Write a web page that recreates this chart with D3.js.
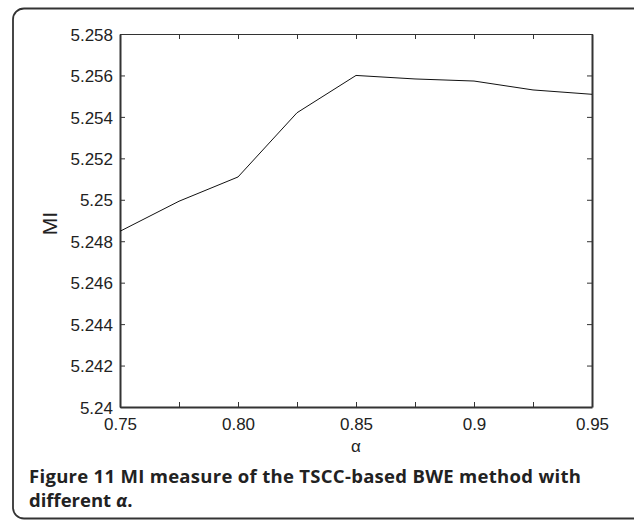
<!DOCTYPE html>
<html>
<head>
<meta charset="utf-8">
<script src="https://cdn.jsdelivr.net/npm/d3@7"></script>
<style>
  body { margin: 0; background: #fff; }
  .tick text { font-family: 'Liberation Sans', Arial, sans-serif; font-size: 17px; fill: #222; }
  .caption { font-family: 'Open Sans', 'Noto Sans', sans-serif; fill: #222; font-weight: 700; }
</style>
</head>
<body>
<div id="chart"></div>
<script>
// values
const alphas = [0.75, 0.775, 0.80, 0.825, 0.85, 0.875, 0.9, 0.925, 0.95];
const miValues = [5.24848, 5.24993, 5.25110, 5.25420, 5.25600, 5.25583, 5.25573, 5.25530, 5.25509];
const xTicks = [0.75, 0.775, 0.80, 0.825, 0.85, 0.875, 0.9, 0.925, 0.95];
const xTickLabels = ['0.75', '', '0.80', '', '0.85', '', '0.9', '', '0.95'];
const yTicks = [5.24, 5.242, 5.244, 5.246, 5.248, 5.25, 5.252, 5.254, 5.256, 5.258];
const yTickLabels = ['5.24', '5.242', '5.244', '5.246', '5.248', '5.25', '5.252', '5.254', '5.256', '5.258'];

const W = 634, H = 522;
const margin = { top: 34, right: 42, bottom: 115, left: 120 },
  width = W - margin.left - margin.right,
  height = H - margin.top - margin.bottom;

const svg = d3.select('#chart')
  .append('svg')
  .attr('width', W)
  .attr('height', H);

// rounded frame around figure + caption
svg.append('rect')
  .attr('x', 13).attr('y', 8.5)
  .attr('width', 640).attr('height', 510)
  .attr('rx', 11).attr('ry', 11)
  .attr('fill', 'none')
  .attr('stroke', '#333')
  .attr('stroke-width', 1.8);

const g = svg.append('g')
  .attr('transform', `translate(${margin.left},${margin.top})`);

const x = d3.scaleLinear().domain([0.75, 0.95]).range([0, width]);
const y = d3.scaleLinear().domain([5.24, 5.258]).range([height, 0]);

const tick = 5;

// bottom axis
const xAxis = g.append('g')
  .attr('transform', `translate(0,${height})`)
  .call(d3.axisBottom(x)
    .tickValues(xTicks)
    .tickFormat((d, i) => xTickLabels[i])
    .tickSizeInner(-tick).tickSizeOuter(0).tickPadding(11));

// left axis
const yAxis = g.append('g')
  .call(d3.axisLeft(y)
    .tickValues(yTicks)
    .tickFormat((d, i) => yTickLabels[i])
    .tickSizeInner(-tick).tickSizeOuter(0).tickPadding(7));

// top and right axes (ticks only)
const xTop = g.append('g')
  .call(d3.axisTop(x).tickValues(xTicks).tickFormat('')
    .tickSizeInner(-tick).tickSizeOuter(0));

const yRight = g.append('g')
  .attr('transform', `translate(${width},0)`)
  .call(d3.axisRight(y).tickValues(yTicks).tickFormat('')
    .tickSizeInner(-tick).tickSizeOuter(0));

[xAxis, yAxis, xTop, yRight].forEach((a) => {
  a.select('.domain').attr('stroke', '#333');
  a.selectAll('.tick line').attr('stroke', '#333');
});
xAxis.select('.domain').attr('stroke-width', 2);
yAxis.select('.domain').attr('stroke-width', 2);
yRight.select('.domain').attr('stroke-width', 2);
xTop.select('.domain').attr('stroke-width', 1.2);
xAxis.selectAll('.tick text').attr('dy', '0.72em');
yAxis.selectAll('.tick text').attr('dy', '0.36em');

// the data line
const line = d3.line()
  .x((d, i) => x(alphas[i]))
  .y((d) => y(d));

g.append('path')
  .datum(miValues)
  .attr('fill', 'none')
  .attr('stroke', '#111')
  .attr('stroke-width', 1)
  .attr('d', line);

// axis titles
g.append('text')
  .attr('transform', `translate(-63,${height / 2 + 3}) rotate(-90)`)
  .attr('text-anchor', 'middle')
  .style('font-family', "'Liberation Sans', Arial, sans-serif")
  .style('font-size', '21px')
  .attr('fill', '#222')
  .text('MI');

g.append('text')
  .attr('x', x(0.85))
  .attr('y', height + 45)
  .attr('text-anchor', 'middle')
  .style('font-family', "'Liberation Sans', Arial, sans-serif")
  .style('font-size', '17px')
  .attr('fill', '#222')
  .text('α');

// caption
svg.append('text')
  .attr('class', 'caption')
  .attr('x', 29).attr('y', 483)
  .style('font-size', '18.5px')
  .attr('textLength', 552)
  .attr('lengthAdjust', 'spacing')
  .text('Figure 11 MI measure of the TSCC-based BWE method with');

const cap2 = svg.append('text')
  .attr('class', 'caption')
  .attr('x', 29).attr('y', 507)
  .style('font-size', '18.5px');
cap2.append('tspan').text('different ');
cap2.append('tspan').style('font-style', 'italic').text('α');
cap2.append('tspan').text('.');
</script>
</body>
</html>
